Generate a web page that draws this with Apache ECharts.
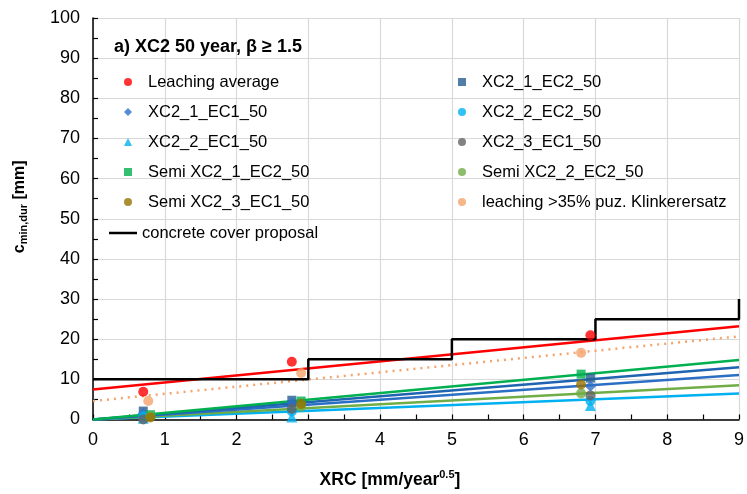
<!DOCTYPE html>
<html>
<head>
<meta charset="utf-8">
<script src="https://cdn.jsdelivr.net/npm/echarts@6/dist/echarts.min.js"></script>
<style>
  html, body { margin: 0; padding: 0; background: #fff; }
  #chart { width: 747px; height: 494px; }
</style>
</head>
<body>
<div id="chart"></div>
<script>
// measured points [XRC, c_min,dur]
var leachingAvg   = [[0.70, 6.9], [2.77, 14.4], [6.93, 21.0]];
var xc2_1_ec2     = [[0.70, 2.1], [2.77, 4.8], [6.93, 10.3]];
var xc2_1_ec1     = [[0.70, 1.5], [2.77, 4.2], [6.93, 8.3]];
var xc2_2_ec2     = [[0.70, 0.8], [2.77, 2.0], [6.93, 4.6]];
var xc2_2_ec1     = [[0.70, 0.3], [2.77, 0.6], [6.93, 3.5]];
var xc2_3_ec1     = [[0.70, 0.0], [2.77, 2.6], [6.93, 6.0]];
var semi_1_ec2    = [[0.80, 1.2], [2.90, 4.6], [6.80, 11.3]];
var semi_2_ec2    = [[0.80, 0.8], [2.90, 3.2], [6.80, 6.5]];
var semi_3_ec1    = [[0.80, 0.5], [2.90, 3.9], [6.80, 8.7]];
var leaching35    = [[0.77, 4.6], [2.90, 11.6], [6.80, 16.6]];
var coverProposal = [[0, 10], [3, 10], [3, 15], [5, 15], [5, 20], [7, 20], [7, 25], [9, 25], [9, 30]];

// trend lines
var trendRed      = [[0, 7.5], [9, 23.2]];
var trendOrange   = [[0, 4.6], [9, 20.7]];
var trendGreen    = [[0, 0], [9, 14.8]];
var trendBlueDark = [[0, 0], [9, 13.0]];
var trendBlue     = [[0, 0], [9, 11.1]];
var trendLtGreen  = [[0, 0], [9, 8.5]];
var trendLtBlue   = [[0, 0], [9, 6.5]];

var FONT = 'Liberation Sans, Arial, sans-serif';

function pts(name, data, symbol, color, size) {
  return {
    name: name, type: 'scatter', data: data, symbol: symbol,
    symbolSize: size || 10, itemStyle: { color: color }, z: 5
  };
}
function trend(data, color, dotted) {
  return {
    name: '_t', type: 'line', data: data, symbol: 'none', silent: true,
    lineStyle: { color: color, width: 2.5, type: dotted ? [2, 5] : 'solid' }, z: 3
  };
}

var myChart = echarts.init(document.getElementById('chart'));
var legendBase = {
  orient: 'vertical', itemWidth: 8, itemHeight: 8, itemGap: 12,
  textStyle: { fontFamily: FONT, fontSize: 16.5, color: '#000', lineHeight: 18, padding: [0, 0, 0, 11] },
  selectedMode: false
};
var option = {
  animation: false,
  title: {
    text: 'a) XC2 50 year, \u03b2 \u2265 1.5', left: 109, top: 33,
    textStyle: { fontFamily: FONT, fontSize: 18, fontWeight: 'bold', color: '#000' }
  },
  legend: [
    Object.assign({}, legendBase, { left: 119, top: 68,
      data: ['Leaching average', 'XC2_1_EC1_50', 'XC2_2_EC1_50', 'Semi XC2_1_EC2_50', 'Semi XC2_3_EC1_50'] }),
    Object.assign({}, legendBase, { left: 453, top: 68,
      data: ['XC2_1_EC2_50', 'XC2_2_EC2_50', 'XC2_3_EC1_50', 'Semi XC2_2_EC2_50', 'leaching >35% puz. Klinkerersatz'] }),
    Object.assign({}, legendBase, { left: 104, top: 219, itemWidth: 28, itemHeight: 2.5,
      textStyle: { fontFamily: FONT, fontSize: 16.5, color: '#000', lineHeight: 18, padding: [0, 0, 0, 0] },
      itemGap: 5, data: [{ name: 'concrete cover proposal', icon: 'rect' }] })
  ],
  grid: { left: 93, right: 6, top: 18, bottom: 72 },
  xAxis: {
    type: 'value', min: 0, max: 9, interval: 1,
    name: 'XRC [mm/year{sup|0.5}]', nameLocation: 'middle', nameGap: 50,
    nameTextStyle: {
      fontFamily: FONT, fontSize: 17.5, fontWeight: 'bold', color: '#000', padding: [0, 52, 0, 0],
      rich: { sup: { fontFamily: FONT, fontSize: 11, fontWeight: 'bold', color: '#000', padding: [0, 0, 10, 0] } }
    },
    axisLine: { lineStyle: { color: '#000', width: 1.5 } },
    axisTick: { show: true, inside: true, length: 5, lineStyle: { color: '#000', width: 1.2 } },
    minorTick: { show: true, splitNumber: 2, length: 5, lineStyle: { color: '#000', width: 1.2 } },
    axisLabel: { fontFamily: FONT, fontSize: 18, color: '#000', margin: 12 },
    splitLine: { show: true, lineStyle: { color: '#d9d9d9', width: 1.2 } }
  },
  yAxis: {
    type: 'value', min: 0, max: 100, interval: 10,
    name: 'c{sub|min,dur} [mm]', nameLocation: 'middle', nameGap: 64,
    nameTextStyle: {
      fontFamily: FONT, fontSize: 16, fontWeight: 'bold', color: '#000', padding: [0, 0, 0, 24],
      rich: { sub: { fontFamily: FONT, fontSize: 11, fontWeight: 'bold', color: '#000', padding: [8, 0, 0, 0] } }
    },
    axisLine: { show: true, lineStyle: { color: '#000', width: 1.5 } },
    axisTick: { show: true, inside: true, length: 5, lineStyle: { color: '#000', width: 1.2 } },
    minorTick: { show: true, splitNumber: 2, length: 5, lineStyle: { color: '#000', width: 1.2 } },
    axisLabel: { fontFamily: FONT, fontSize: 18, color: '#000', margin: 13 },
    splitLine: { show: true, lineStyle: { color: '#d9d9d9', width: 1.2 } }
  },
  series: [
    trend(trendLtBlue, '#00B0F0'),
    trend(trendLtGreen, '#70AD47'),
    trend(trendBlue, '#2A6FC4'),
    trend(trendBlueDark, '#1F64B0'),
    trend(trendGreen, '#00B050'),
    trend(trendOrange, '#F4A46C', true),
    trend(trendRed, '#FF0000'),
    {
      name: 'concrete cover proposal', type: 'line', data: coverProposal, symbol: 'none',
      lineStyle: { color: '#000', width: 2.5 }, itemStyle: { color: '#000' }, z: 4
    },
    pts('Leaching average', leachingAvg, 'circle', '#FF0000'),
    pts('XC2_1_EC2_50', xc2_1_ec2, 'rect', '#255E91', 9),
    pts('XC2_1_EC1_50', xc2_1_ec1, 'diamond', '#2F6FC6', 11),
    pts('XC2_2_EC2_50', xc2_2_ec2, 'circle', '#00B0F0'),
    pts('XC2_2_EC1_50', xc2_2_ec1, 'triangle', '#00B0F0', 11),
    pts('XC2_3_EC1_50', xc2_3_ec1, 'circle', '#636363'),
    pts('Semi XC2_1_EC2_50', semi_1_ec2, 'rect', '#00B050', 9),
    pts('Semi XC2_2_EC2_50', semi_2_ec2, 'circle', '#70AD47'),
    pts('Semi XC2_3_EC1_50', semi_3_ec1, 'circle', '#997300'),
    pts('leaching >35% puz. Klinkerersatz', leaching35, 'circle', '#F4A46C')
  ]
};
myChart.setOption(option);
</script>
</body>
</html>
